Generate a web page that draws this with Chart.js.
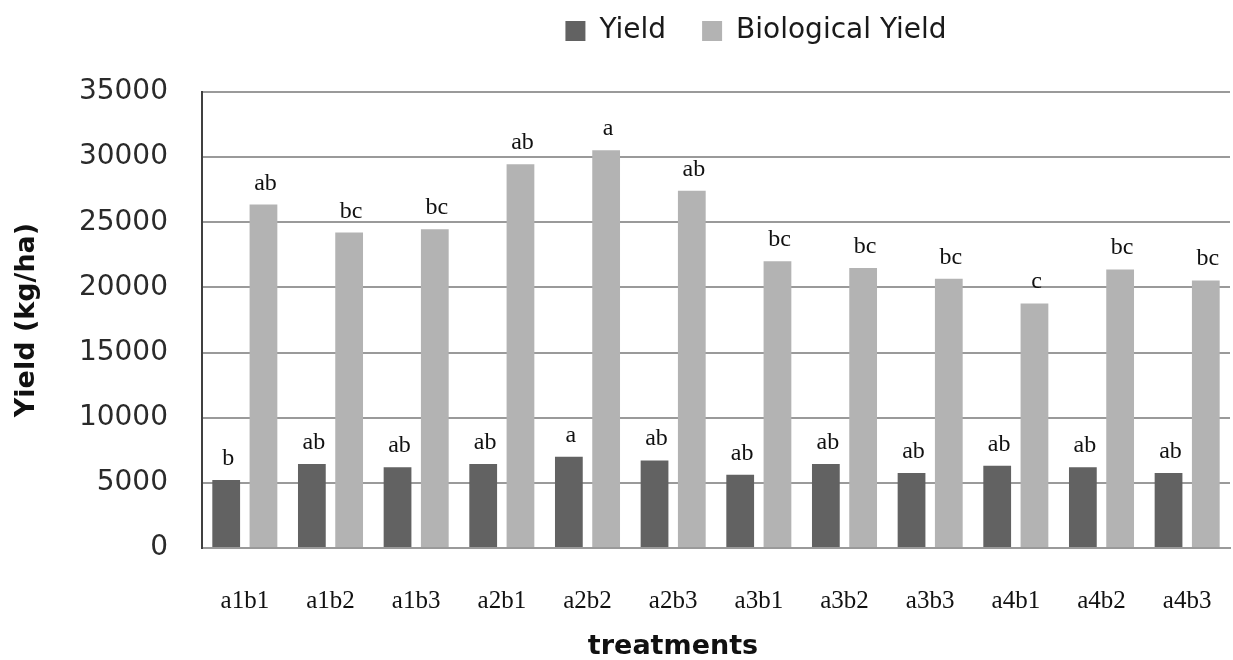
<!DOCTYPE html>
<html>
<head>
<meta charset="utf-8">
<script src="https://cdn.jsdelivr.net/npm/chart.js@4.4.1/dist/chart.umd.min.js"></script>
<style>
  html, body { margin: 0; padding: 0; background: #ffffff; }
  #wrap { width: 1233px; height: 660px; }
</style>
</head>
<body>
<div id="wrap"><canvas id="c" width="1233" height="660"></canvas></div>
<script>
const categories = ['a1b1','a1b2','a1b3','a2b1','a2b2','a2b3','a3b1','a3b2','a3b3','a4b1','a4b2','a4b3'];
const yieldValues = [5220, 6450, 6190, 6450, 7010, 6720, 5630, 6450, 5760, 6320, 6190, 5760];
const biologicalYieldValues = [26360, 24210, 24460, 29460, 30530, 27430, 22010, 21500, 20660, 18770, 21380, 20540];
const yieldLetters = ['b','ab','ab','ab','a','ab','ab','ab','ab','ab','ab','ab'];
const biologicalLetters = ['ab','bc','bc','ab','a','ab','bc','bc','bc','c','bc','bc'];
const yMin = 0, yMax = 35000, yStep = 5000;

const letterPlugin = {
  id: 'letters',
  afterDatasetsDraw(chart) {
    const ctx = chart.ctx;
    const sets = [yieldLetters, biologicalLetters];
    ctx.save();
    ctx.fillStyle = '#111111';
    ctx.font = '24px "Liberation Serif", serif';
    ctx.textAlign = 'center';
    ctx.textBaseline = 'alphabetic';
    chart.data.datasets.forEach((ds, di) => {
      const meta = chart.getDatasetMeta(di);
      meta.data.forEach((bar, i) => {
        ctx.fillText(sets[di][i], bar.x + 2, bar.y - 15);
      });
    });
    ctx.restore();
  }
};

const layoutTweak = {
  id: 'layoutTweak',
  beforeInit(chart) {
    const lg = chart.legend;
    const origFit = lg.fit;
    lg.fit = function () { origFit.call(this); this.height = 92; };
  },
  afterLayout(chart) {
    const lg = chart.legend;
    lg.left += 40; lg.right += 40;
    lg.top -= 19; lg.bottom -= 19;
    const sx = chart.scales.x;
    if (!sx._titleWrapped) {
      const origTitle = sx.drawTitle;
      sx.drawTitle = function () {
        const l = this.left, r = this.right;
        this.left -= 43; this.right -= 43;
        origTitle.apply(this, arguments);
        this.left = l; this.right = r;
      };
      sx._titleWrapped = true;
    }
  }
};

new Chart(document.getElementById('c'), {
  type: 'bar',
  data: {
    labels: categories,
    datasets: [
      { label: 'Yield', data: yieldValues, backgroundColor: '#626262', borderWidth: 0 },
      { label: 'Biological Yield', data: biologicalYieldValues, backgroundColor: '#b3b3b3', borderWidth: 0 }
    ]
  },
  plugins: [layoutTweak, letterPlugin],
  options: {
    responsive: false,
    animation: false,
    layout: { padding: { left: 0, right: 3, top: 0, bottom: 0 } },
    categoryPercentage: 0.87,
    barPercentage: 0.745,
    plugins: {
      legend: {
        position: 'top',
        fullSize: false,
        labels: {
          boxWidth: 20, boxHeight: 20, padding: 36,
          color: '#1a1a1a',
          font: { family: '"DejaVu Sans", sans-serif', size: 28 }
        }
      },
      tooltip: { enabled: false }
    },
    scales: {
      x: {
        grid: { display: false, drawTicks: true, tickLength: 36 },
        border: { display: true, color: '#9a9a9a', width: 2 },
        ticks: {
          padding: 2, color: '#111111',
          font: { family: '"Liberation Serif", serif', size: 25 }
        },
        title: {
          display: true, text: 'treatments', color: '#111111',
          padding: 0,
          font: { family: '"DejaVu Sans", sans-serif', size: 27, weight: 'bold', lineHeight: 1 }
        },
        afterFit(scale) { scale.height = 112; }
      },
      y: {
        min: yMin, max: yMax,
        grid: { color: '#9a9a9a', lineWidth: 2, drawTicks: false },
        border: { display: true, color: '#404040', width: 2 },
        ticks: {
          stepSize: yStep, padding: 34, color: '#2a2a2a',
          font: { family: '"DejaVu Sans", sans-serif', size: 28 },
          callback: (v) => String(v)
        },
        title: {
          display: true, text: 'Yield (kg/ha)', color: '#111111',
          padding: { top: 11, bottom: 0 },
          font: { family: '"DejaVu Sans", sans-serif', size: 27, weight: 'bold' }
        },
        afterFit(scale) { scale.width = 202; }
      }
    }
  }
});
</script>
</body>
</html>
